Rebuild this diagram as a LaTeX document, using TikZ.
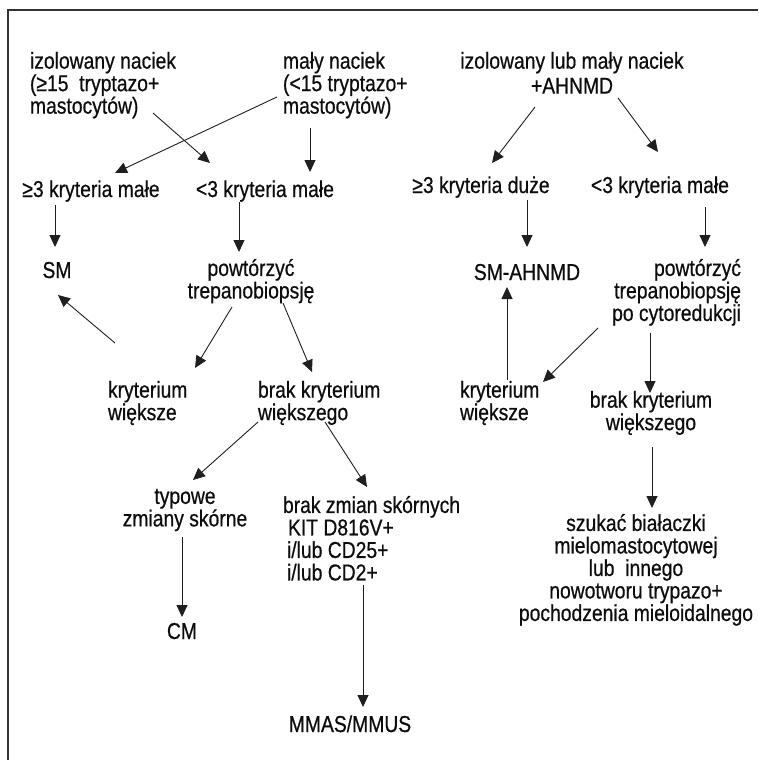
\documentclass[tikz,border=0pt]{standalone}
\usepackage{fontspec}
\setmainfont{Liberation Sans}[FakeStretch=0.84,FakeBold=0.6]
\usetikzlibrary{arrows.meta}
\tikzset{
  txt/.style={inner sep=0pt, outer sep=0pt, font=\fontsize{23}{22.5}\selectfont, text=black!95},
  arr/.style={line width=0.9pt, draw=black!88, -{Triangle[width=11pt,length=12pt]}},
  frame/.style={line width=1.6pt, draw=black!80}
}
\begin{document}
\begin{tikzpicture}[x=1pt,y=-1pt]
\useasboundingbox (0,0) rectangle (758,760);
\draw[frame] (758,10) -- (8,10) -- (8,760);

% left column nodes
\node[txt, anchor=north west, align=left] (iz) at (30,52) {izolowany naciek\\(≥15\ \ tryptazo+\\mastocytów)};
\node[txt, anchor=north west, align=left] (maly) at (283,52) {mały naciek\\(<15 tryptazo+\\mastocytów)};
\node[txt, anchor=base] (ge3m) at (91,197) {≥3 kryteria małe};
\node[txt, anchor=base] (lt3m) at (265,197) {<3 kryteria małe};
\node[txt, anchor=base] (sm) at (57,278) {SM};
\node[txt, anchor=north, align=center] (pow) at (251,259) {powtórzyć\\trepanobiopsję};
\node[txt, anchor=north west, align=left] (kw) at (108,381) {kryterium\\większe};
\node[txt, anchor=north west, align=left] (bk) at (258,381) {brak kryterium\\większego};
\node[txt, anchor=north, align=center] (typ) at (185,489) {typowe\\zmiany skórne};
\node[txt, anchor=north west, align=left] (bz) at (283,496) {brak zmian skórnych\\\hspace*{5pt}KIT D816V+\\\hspace*{4pt}i/lub CD25+\\\hspace*{4pt}i/lub CD2+};
\node[txt, anchor=base] (cm) at (182,639) {CM};
\node[txt, anchor=base] (mmas) at (350,732) {MMAS/MMUS};

% right column nodes
\node[txt, anchor=north, align=center] (ahn) at (572,52) {izolowany lub mały naciek\\[2.5pt]+AHNMD};
\node[txt, anchor=base] (ge3d) at (481,193) {≥3 kryteria duże};
\node[txt, anchor=base] (lt3m2) at (660,193) {<3 kryteria małe};
\node[txt, anchor=base] (smah) at (527,280) {SM-AHNMD};
\node[txt, anchor=north east, align=right] (pow2) at (741,259) {powtórzyć\\trepanobiopsję\\po cytoredukcji};
\node[txt, anchor=north west, align=left] (kw2) at (460,381) {kryterium\\większe};
\node[txt, anchor=north, align=center] (bk2) at (651,391) {brak kryterium\\większego};
\node[txt, anchor=north, align=center] (szu) at (636,514) {szukać białaczki\\mielomastocytowej\\lub\ \ innego\\nowotworu trypazo+\\pochodzenia mieloidalnego};

% left connectors
\draw[arr] ([shift={(-6,45)}]maly.north west) -- ([shift={(24,-24)}]ge3m.base);
\draw[arr] ([shift={(123,61)}]iz.north west) -- ([shift={(-55,-34)}]lt3m.base);
\draw[arr] ([shift={(27,76)}]maly.north west) -- ([shift={(45,-25)}]lt3m.base);
\draw[arr] ([shift={(-36,8)}]ge3m.base) -- ([shift={(-2,-31)}]sm.base);
\draw[arr] ([shift={(-26,5)}]lt3m.base) -- ([shift={(-12,-7)}]pow.north);
\draw[arr] ([shift={(7,-38)}]kw.north west) -- ([shift={(1,17)}]sm.base);
\draw[arr] ([shift={(-19,48)}]pow.north) -- ([shift={(87,-13)}]kw.north west);
\draw[arr] ([shift={(32,44)}]pow.north) -- ([shift={(54,-9)}]bk.north west);
\draw[arr] ([shift={(0,41)}]bk.north west) -- ([shift={(8,-9)}]typ.north);
\draw[arr] ([shift={(67,41)}]bk.north west) -- ([shift={(84,-9)}]bz.north west);
\draw[arr] ([shift={(-3,48)}]typ.north) -- ([shift={(0,-22)}]cm.base);
\draw[arr] ([shift={(80,89)}]bz.north west) -- ([shift={(13,-25)}]mmas.base);

% right connectors
\draw[arr] ([shift={(-37,55)}]ahn.north) -- ([shift={(11,-30)}]ge3d.base);
\draw[arr] ([shift={(46,46)}]ahn.north) -- ([shift={(-2,-41)}]lt3m2.base);
\draw[arr] ([shift={(46,7)}]ge3d.base) -- ([shift={(0,-33)}]smah.base);
\draw[arr] ([shift={(45,14)}]lt3m2.base) -- ([shift={(-36,-12)}]pow2.north east);
\draw[arr] ([shift={(-143,69)}]pow2.north east) -- ([shift={(83,1)}]kw2.north west);
\draw[arr] ([shift={(47,-1)}]kw2.north west) -- ([shift={(-20,7)}]smah.base);
\draw[arr] ([shift={(-91,74)}]pow2.north east) -- ([shift={(-1,2)}]bk2.north);
\draw[arr] ([shift={(1,56)}]bk2.north) -- ([shift={(16,-6)}]szu.north);
\end{tikzpicture}
\end{document}
